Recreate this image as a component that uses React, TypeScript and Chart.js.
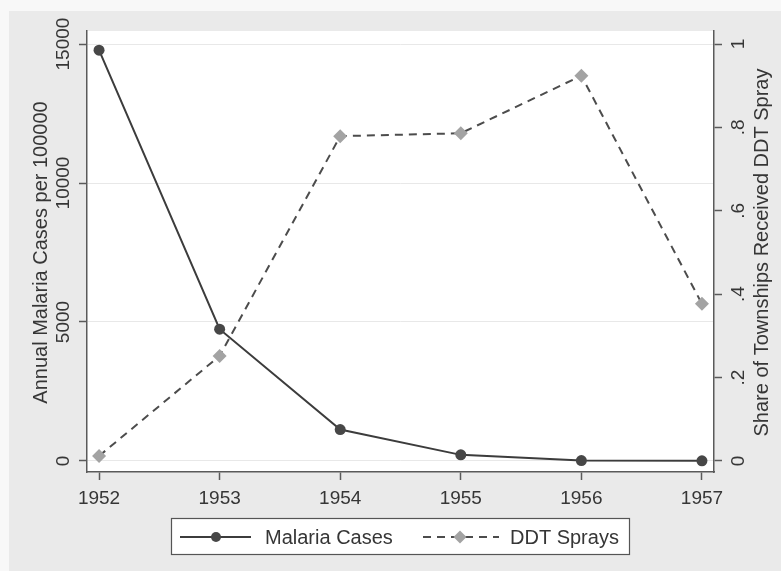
import React, { useEffect, useRef } from "react";
import { Chart, registerables } from "chart.js";

Chart.register(...registerables);

const years = [1952, 1953, 1954, 1955, 1956, 1957];
const malariaCases = [14780, 4740, 1130, 220, 15, 5];
const ddtSprays = [0.012, 0.252, 0.779, 0.786, 0.924, 0.377];
const leftTicks = [0, 5000, 10000, 15000];
const leftTickLabels = ["0", "5000", "10000", "15000"];
const rightTicks = [0, 0.2, 0.4, 0.6, 0.8, 1];
const rightTickLabels = ["0", ".2", ".4", ".6", ".8", "1"];
const seriesNames = ["Malaria Cases", "DDT Sprays"];
const leftTitle = "Annual Malaria Cases per 100000";
const rightTitle = "Share of Townships Received DDT Spray";

const FONT = "'Liberation Sans', Arial, sans-serif";
const TEXT = "#363636";
const AXIS = "#5a5a5a";
const MAL_LINE = "#3c3c3c";
const MAL_PT = "#474747";
const DDT_LINE = "#4c4c4c";
const DDT_PT = "#a3a3a3";
const DASH = [8, 6];

function drawRot(ctx: CanvasRenderingContext2D, text: string, x: number, y: number, size: number) {
  ctx.save();
  ctx.translate(x, y);
  ctx.rotate(-Math.PI / 2);
  ctx.font = `${size}px ${FONT}`;
  ctx.fillStyle = TEXT;
  ctx.textAlign = "center";
  ctx.textBaseline = "middle";
  ctx.fillText(text, 0, 0);
  ctx.restore();
}

const stataPlugin = {
  id: "stataDecor",
  beforeDraw(chart: any) {
    const { ctx, chartArea, width, height } = chart;
    ctx.save();
    ctx.fillStyle = "#f8f8f8";
    ctx.fillRect(0, 0, width, height);
    ctx.fillStyle = "#eaeaea";
    ctx.fillRect(9, 11, width - 9, height - 11);
    ctx.fillStyle = "#ffffff";
    ctx.fillRect(chartArea.left, chartArea.top, chartArea.right - chartArea.left, chartArea.bottom - chartArea.top);
    ctx.restore();
  },
  afterDraw(chart: any) {
    const { ctx, chartArea } = chart;
    const ys = chart.scales.y;
    const yr = chart.scales.y1;
    leftTicks.forEach((v, i) => drawRot(ctx, leftTickLabels[i], 64, ys.getPixelForValue(v), 19));
    rightTicks.forEach((v, i) => drawRot(ctx, rightTickLabels[i], 739, yr.getPixelForValue(v), 19));
    const midY = (chartArea.top + chartArea.bottom) / 2 + 1;
    drawRot(ctx, leftTitle, 41, midY, 20);
    drawRot(ctx, rightTitle, 762, midY, 20);

    // legend
    ctx.save();
    ctx.fillStyle = "#ffffff";
    ctx.fillRect(171, 518, 458, 36);
    ctx.strokeStyle = "#555555";
    ctx.lineWidth = 1.2;
    ctx.strokeRect(171.5, 518.5, 458, 36);
    const ly = 537;
    ctx.strokeStyle = MAL_LINE;
    ctx.lineWidth = 2;
    ctx.beginPath();
    ctx.moveTo(180, ly);
    ctx.lineTo(251, ly);
    ctx.stroke();
    ctx.fillStyle = MAL_PT;
    ctx.beginPath();
    ctx.arc(216, ly, 5, 0, Math.PI * 2);
    ctx.fill();
    ctx.strokeStyle = DDT_LINE;
    ctx.setLineDash(DASH);
    ctx.beginPath();
    ctx.moveTo(423, ly);
    ctx.lineTo(499, ly);
    ctx.stroke();
    ctx.setLineDash([]);
    ctx.fillStyle = DDT_PT;
    ctx.beginPath();
    ctx.moveTo(460, ly - 6.5);
    ctx.lineTo(466.5, ly);
    ctx.lineTo(460, ly + 6.5);
    ctx.lineTo(453.5, ly);
    ctx.closePath();
    ctx.fill();
    ctx.font = `20px ${FONT}`;
    ctx.fillStyle = TEXT;
    ctx.textAlign = "left";
    ctx.textBaseline = "middle";
    ctx.fillText(seriesNames[0], 265, ly + 1);
    ctx.fillText(seriesNames[1], 510, ly + 1);
    ctx.restore();
  },
};

export default function App() {
  const ref = useRef<HTMLCanvasElement | null>(null);
  useEffect(() => {
    document.body.style.margin = "0";
    const canvas = ref.current;
    if (!canvas) return;
    const chart = new Chart(canvas, {
      type: "line",
      data: {
        datasets: [
          {
            label: seriesNames[0],
            data: years.map((yv, i) => ({ x: yv, y: malariaCases[i] })),
            yAxisID: "y",
            borderColor: MAL_LINE,
            borderWidth: 2,
            pointRadius: 5.5,
            pointBackgroundColor: MAL_PT,
            pointBorderColor: MAL_PT,
            pointBorderWidth: 0,
            pointStyle: "circle",
            tension: 0,
            clip: false as any,
          },
          {
            label: seriesNames[1],
            data: years.map((yv, i) => ({ x: yv, y: ddtSprays[i] })),
            yAxisID: "y1",
            borderColor: DDT_LINE,
            borderWidth: 2,
            borderDash: DASH,
            pointRadius: 7,
            pointStyle: "rectRot",
            pointBackgroundColor: DDT_PT,
            pointBorderColor: DDT_PT,
            pointBorderWidth: 0,
            tension: 0,
            clip: false as any,
          },
        ],
      },
      options: {
        responsive: false,
        animation: false,
        events: [],
        layout: { padding: { top: 31, left: 0, right: 0, bottom: 0 } },
        plugins: { legend: { display: false }, tooltip: { enabled: false }, title: { display: false } },
        scales: {
          x: {
            type: "linear",
            min: 1951.9,
            max: 1957.1,
            afterBuildTicks: (s: any) => {
              s.ticks = years.map((v) => ({ value: v }));
            },
            afterFit: (s: any) => {
              s.height = 99;
            },
            ticks: {
              callback: (v: any) => String(v),
              font: { size: 19, family: FONT },
              color: TEXT,
              padding: 7,
              maxRotation: 0,
              minRotation: 0,
              autoSkip: false,
            },
            grid: { drawOnChartArea: false, drawTicks: true, tickLength: 8, tickColor: AXIS, tickWidth: 1.5 },
            border: { display: true, color: AXIS, width: 1.5 },
          },
          y: {
            type: "linear",
            position: "left",
            min: -396.6,
            max: 15468.75,
            afterBuildTicks: (s: any) => {
              s.ticks = leftTicks.map((v) => ({ value: v }));
            },
            afterFit: (s: any) => {
              s.width = 87;
            },
            ticks: { display: false },
            grid: { color: "#e8e8e8", lineWidth: 1, drawTicks: true, tickLength: 8, tickColor: AXIS, tickWidth: 1.5 },
            border: { display: true, color: AXIS, width: 1.5 },
          },
          y1: {
            type: "linear",
            position: "right",
            min: -0.02644,
            max: 1.03125,
            afterBuildTicks: (s: any) => {
              s.ticks = rightTicks.map((v) => ({ value: v }));
            },
            afterFit: (s: any) => {
              s.width = 67;
            },
            ticks: { display: false },
            grid: { drawOnChartArea: false, drawTicks: true, tickLength: 8, tickColor: AXIS, tickWidth: 1.5 },
            border: { display: true, color: AXIS, width: 1.5 },
          },
        },
      },
      plugins: [stataPlugin],
    });
    return () => chart.destroy();
  }, []);
  return (
    <div style={{ position: "fixed", left: 0, top: 0, width: 781, height: 571 }}>
      <canvas ref={ref} width={781} height={571} style={{ display: "block" }} />
    </div>
  );
}
